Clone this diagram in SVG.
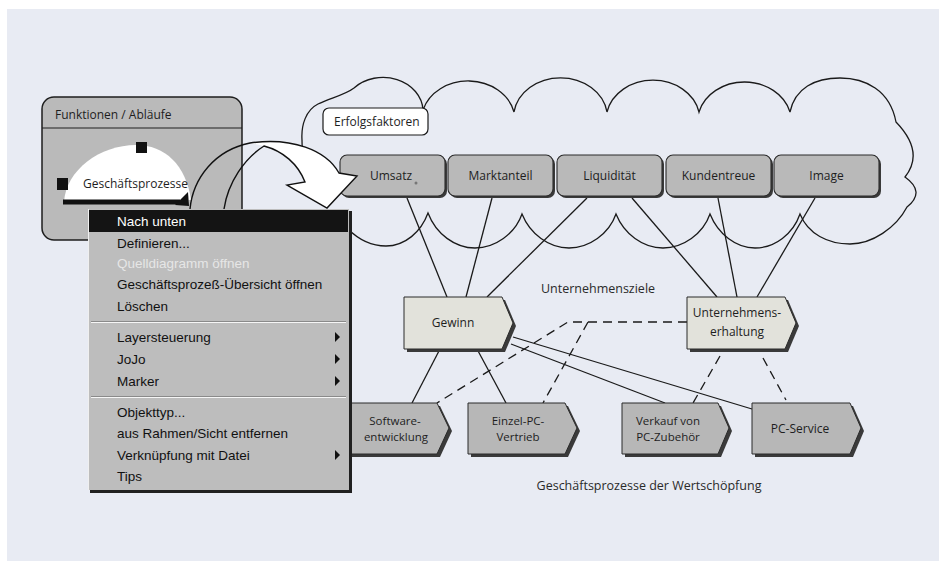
<svg xmlns="http://www.w3.org/2000/svg" width="939" height="561" viewBox="0 0 939 561">
<defs>
<style>
.lbl{font-family:"Open Sans","Liberation Sans",sans-serif;font-size:12px;fill:#1e1e1e}
.lbl2{font-family:"Open Sans","Liberation Sans",sans-serif;font-size:11.5px;fill:#1e1e1e}
.cap{font-family:"Open Sans","Liberation Sans",sans-serif;font-size:12.5px;fill:#2a2a2a}
.mi{font-family:"Liberation Sans",Arial,sans-serif;font-size:13.5px;fill:#111}
.ln{stroke:#1a1a1a;stroke-width:1.3;fill:none}
.dash{stroke:#1a1a1a;stroke-width:1.3;fill:none;stroke-dasharray:9 6}
.shadow{fill:#3a3a3a}
.rbox{fill:#b9b9b9;stroke:#2a2a2a;stroke-width:1.1}
.gbox{fill:#b7b7b7;stroke:#2a2a2a;stroke-width:1}
.goal{fill:#e2e2db;stroke:#2a2a2a;stroke-width:1}
.sub{fill:#111}
</style>
</defs>

<!-- page -->
<rect x="0" y="0" width="939" height="561" fill="#ffffff"/>
<rect x="7" y="9" width="932" height="552" fill="#e8ebf3"/>

<!-- cloud of success factors -->
<g id="cloud">
<path class="ln" d="M348,229 C360,241 372,246 386,246 C405,246 421,232 428,213 C436,234 455,248 475,248 C495,248 515,234 522,214 C530,234 549,248 569,248 C589,248 609,234 616,214 C624,234 643,248 663,248 C683,248 703,234 710,214 C718,234 736,248 755,248 C775,248 793,234 800,214 C808,234 828,244 850,244 C872,244 896,228 907,207 Q926,192 905,177 Q925,152 896,122 C890,90 865,78 840,78 C815,78 795,88 790,112 A47,40 0 0 0 699,112 A47,40 0 0 0 607,112 A47,40 0 0 0 514,112 A47,40 0 0 0 423,110 A40,34 0 0 0 354,88 C345,95 330,98 318,104 C306,110 301,125 302,140 C302,150 303,158 304,166"/>
</g>

<!-- connectors -->
<g id="connectors">
<path class="ln" d="M407,198 L447,297"/>
<path class="ln" d="M492,198 L466,297"/>
<path class="ln" d="M587,198 L487,297"/>
<path class="ln" d="M632,198 L717,297"/>
<path class="ln" d="M718,198 L737,297"/>
<path class="ln" d="M815,198 L757,297"/>
<path class="ln" d="M440,349 L412,403"/>
<path class="ln" d="M477,349 L506,403"/>
<path class="ln" d="M511,344 L665,403"/>
<path class="ln" d="M513,337 L752,409"/>
<path class="dash" d="M687,322 L568,322 L437,403"/>
<path class="dash" d="M588,322 L543,403"/>
<path class="dash" d="M720,356 L693,403"/>
<path class="dash" d="M763,358 L786,400"/>
</g>

<!-- cloud label -->
<g id="erfolgsfaktoren">
<rect x="323" y="108" width="105" height="27" rx="6" fill="#ffffff" stroke="#1a1a1a" stroke-width="1.2"/>
<text class="lbl" x="334" y="126">Erfolgsfaktoren</text>
</g>

<!-- success factors -->
<g id="umsatz">
<rect class="shadow" x="342" y="157" width="105" height="41" rx="7"/>
<rect class="rbox" x="340" y="155" width="105" height="41" rx="7"/>
<text class="lbl" x="391" y="180" text-anchor="middle">Umsatz</text>
<circle cx="416" cy="183" r="1.5" fill="#777"/>
</g>
<g id="marktanteil">
<rect class="shadow" x="450" y="157" width="105" height="41" rx="7"/>
<rect class="rbox" x="448" y="155" width="105" height="41" rx="7"/>
<text class="lbl" x="500.5" y="180" text-anchor="middle">Marktanteil</text>
</g>
<g id="liquiditaet">
<rect class="shadow" x="559" y="157" width="105" height="41" rx="7"/>
<rect class="rbox" x="557" y="155" width="105" height="41" rx="7"/>
<text class="lbl" x="609.5" y="180" text-anchor="middle">Liquidität</text>
</g>
<g id="kundentreue">
<rect class="shadow" x="668" y="157" width="105" height="41" rx="7"/>
<rect class="rbox" x="666" y="155" width="105" height="41" rx="7"/>
<text class="lbl" x="718.5" y="180" text-anchor="middle">Kundentreue</text>
</g>
<g id="image">
<rect class="shadow" x="776" y="157" width="105" height="41" rx="7"/>
<rect class="rbox" x="774" y="155" width="105" height="41" rx="7"/>
<text class="lbl" x="826.5" y="180" text-anchor="middle">Image</text>
</g>

<!-- corporate goals -->
<text class="cap" x="598" y="293" text-anchor="middle">Unternehmensziele</text>
<g id="gewinn">
<path class="shadow" d="M407,300 H505 L516,326 L505,352 H407 Z"/>
<path class="goal" d="M404,297 H502 L513,323 L502,349 H404 Z"/>
<text class="lbl" x="453" y="327" text-anchor="middle">Gewinn</text>
</g>
<g id="unternehmenserhaltung">
<path class="shadow" d="M690,300 H788 L799,326 L788,352 H690 Z"/>
<path class="goal" d="M687,297 H785 L796,323 L785,349 H687 Z"/>
<text class="lbl" x="737" y="317" text-anchor="middle">Unternehmens-</text>
<text class="lbl" x="737" y="336" text-anchor="middle">erhaltung</text>
</g>

<!-- value-adding business processes -->
<g id="softwareentwicklung">
<path class="shadow" d="M343,406 H440 L452,431 L440,457 H343 Z"/>
<path class="gbox" d="M340,403 H437 L449,428 L437,454 H340 Z"/>
<text class="lbl2" x="395" y="425" text-anchor="middle">Software-</text>
<text class="lbl2" x="396" y="441" text-anchor="middle">entwicklung</text>
</g>
<g id="einzel-pc-vertrieb">
<path class="shadow" d="M471,406 H568 L580,431 L568,457 H471 Z"/>
<path class="gbox" d="M468,403 H565 L577,428 L565,454 H468 Z"/>
<text class="lbl2" x="518" y="425" text-anchor="middle">Einzel-PC-</text>
<text class="lbl2" x="518" y="441" text-anchor="middle">Vertrieb</text>
</g>
<g id="pc-zubehoer">
<path class="shadow" d="M625,406 H721 L732,431 L721,457 H625 Z"/>
<path class="gbox" d="M622,403 H718 L729,428 L718,454 H622 Z"/>
<text class="lbl2" x="668" y="425" text-anchor="middle">Verkauf von</text>
<text class="lbl2" x="668" y="441" text-anchor="middle">PC-Zubehör</text>
</g>
<g id="pc-service">
<path class="shadow" d="M755,406 H853 L864,431 L853,457 H755 Z"/>
<path class="gbox" d="M752,403 H850 L861,428 L850,454 H752 Z"/>
<text class="lbl" x="800" y="433" text-anchor="middle">PC-Service</text>
</g>
<text class="cap" x="649" y="490" text-anchor="middle">Geschäftsprozesse der Wertschöpfung</text>

<!-- function frame -->
<g id="funktionen">
<rect x="42" y="97" width="200" height="143" rx="12" fill="#bababa" stroke="#1e1e1e" stroke-width="1.5"/>
<line x1="42" y1="128" x2="242" y2="128" stroke="#1e1e1e" stroke-width="1.2"/>
<text class="lbl" x="55" y="119">Funktionen / Abläufe</text>
<path d="M64,202 C66,170 100,145 136,145 C165,145 186,165 191,200 Z" fill="#ffffff"/>
<rect x="136" y="142" width="11" height="11" fill="#111"/>
<rect x="57" y="178" width="11" height="12" fill="#111"/>
<text class="lbl" x="83" y="188">Geschäftsprozesse</text>
<line x1="63" y1="202" x2="180" y2="202" stroke="#111" stroke-width="5"/>
<polygon points="175,205 188,192 189,206" fill="#111"/>
</g>

<!-- curved drill-down arrow -->
<g id="drilldown-arrow">
<path d="M250,143 C292,137 326,150 339,173 L357,176 L327,208 L287,185 L305,182 C298,164 283,151 264,146 Z" fill="#ffffff"/>
<path d="M190,209 C193,178 215,150 250,143 C292,137 326,150 339,173 L357,176 L327,208 L287,185 L305,182 C298,164 283,151 264,146 C245,158 228,182 224,209" fill="none" stroke="#111" stroke-width="1.4" stroke-linejoin="miter"/>
</g>

<!-- context menu -->
<g id="context-menu">
<rect x="88" y="209" width="261" height="281" fill="#bdbdbd"/>
<rect x="349" y="211" width="3" height="282" fill="#202020"/>
<rect x="90" y="490" width="262" height="3" fill="#202020"/>
<line x1="88.5" y1="209" x2="88.5" y2="490" stroke="#efefef" stroke-width="1"/>
<rect x="89" y="210" width="259" height="22" fill="#141414"/>
<text class="mi" x="117" y="226" style="fill:#ffffff">Nach unten</text>
<text class="mi" x="117" y="248">Definieren...</text>
<text class="mi" x="117" y="268" style="fill:#e6e6e6">Quelldiagramm öffnen</text>
<text class="mi" x="117" y="289">Geschäftsprozeß-Übersicht öffnen</text>
<text class="mi" x="117" y="311">Löschen</text>
<line x1="91" y1="321.5" x2="346" y2="321.5" stroke="#8a8a8a"/>
<line x1="91" y1="322.5" x2="346" y2="322.5" stroke="#f6f6f6"/>
<text class="mi" x="117" y="342">Layersteuerung</text>
<text class="mi" x="117" y="364">JoJo</text>
<text class="mi" x="117" y="386">Marker</text>
<line x1="91" y1="396.5" x2="346" y2="396.5" stroke="#8a8a8a"/>
<line x1="91" y1="397.5" x2="346" y2="397.5" stroke="#f6f6f6"/>
<text class="mi" x="117" y="417">Objekttyp...</text>
<text class="mi" x="117" y="438">aus Rahmen/Sicht entfernen</text>
<text class="mi" x="117" y="460">Verknüpfung mit Datei</text>
<text class="mi" x="117" y="481">Tips</text>
<polygon class="sub" points="335,332 340,337 335,342"/>
<polygon class="sub" points="335,354 340,359 335,364"/>
<polygon class="sub" points="335,376 340,381 335,386"/>
<polygon class="sub" points="335,450 340,455 335,460"/>
</g>
</svg>
